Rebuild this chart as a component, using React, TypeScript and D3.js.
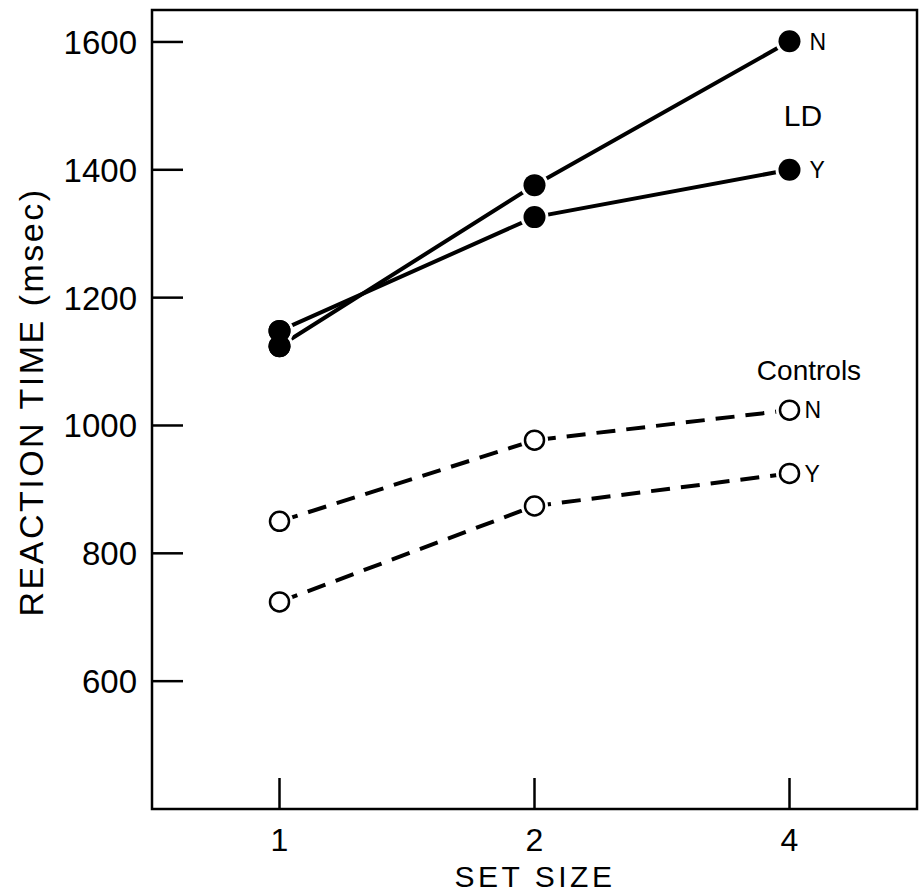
import React from "react";
import * as d3 from "d3";

const setSizes = ["1", "2", "4"];
const yTicks = [600, 800, 1000, 1200, 1400, 1600];

// LD group (filled markers, solid lines)
const ldN = [1124, 1376, 1601];
const ldY = [1148, 1326, 1400];
// Controls (open markers, dashed lines)
const ctrlN = [850, 977, 1024];
const ctrlY = [724, 874, 925];

const W = 923;
const H = 896;
const box = { left: 152, right: 917, top: 10, bottom: 809 };
const font = "'Liberation Sans', Arial, sans-serif";

export default function App() {
  const x = d3.scalePoint<string>().domain(setSizes).range([box.left, box.right]).padding(0.5);
  const y = d3.scaleLinear().domain([400, 1650]).range([box.bottom, box.top]);

  const line = d3
    .line<number>()
    .x((_, i) => x(setSizes[i]) as number)
    .y((d) => y(d));

  const series = [
    { vals: ldN, filled: true, label: "N" },
    { vals: ldY, filled: true, label: "Y" },
    { vals: ctrlN, filled: false, label: "N" },
    { vals: ctrlY, filled: false, label: "Y" },
  ];

  return (
    <svg
      width={W}
      height={H}
      style={{ position: "absolute", left: 0, top: 0, background: "#fff" }}
    >
      <rect x={0} y={0} width={W} height={H} fill="#fff" />
      {/* frame */}
      <rect
        x={box.left}
        y={box.top}
        width={box.right - box.left}
        height={box.bottom - box.top}
        fill="none"
        stroke="#000"
        strokeWidth={2.5}
      />
      {/* y ticks */}
      {yTicks.map((t) => (
        <g key={t}>
          <line x1={box.left} x2={box.left + 31} y1={y(t)} y2={y(t)} stroke="#000" strokeWidth={2.5} />
          <text
            x={137}
            y={y(t)}
            dy="0.36em"
            textAnchor="end"
            fontFamily={font}
            fontSize={33}
          >
            {t}
          </text>
        </g>
      ))}
      {/* x ticks */}
      {setSizes.map((s) => (
        <g key={s}>
          <line
            x1={x(s)}
            x2={x(s)}
            y1={box.bottom}
            y2={box.bottom - 31}
            stroke="#000"
            strokeWidth={2.5}
          />
          <text x={x(s)} y={851} textAnchor="middle" fontFamily={font} fontSize={32}>
            {s}
          </text>
        </g>
      ))}
      <text x={535} y={887} textAnchor="middle" fontFamily={font} fontSize={30} letterSpacing={3.5}>
        SET SIZE
      </text>
      <text
        transform="translate(43,402) rotate(-90)"
        textAnchor="middle"
        fontFamily={font}
        fontSize={34}
        letterSpacing={2.5}
      >
        REACTION TIME (msec)
      </text>

      {/* lines */}
      {series.map((s, i) => (
        <path
          key={"l" + i}
          d={line(s.vals) as string}
          fill="none"
          stroke="#000"
          strokeWidth={4}
          strokeDasharray={s.filled ? undefined : "19 11"}
        />
      ))}
      {/* white halos to leave gap between lines and markers */}
      {series.map((s, i) =>
        s.vals.map((v, j) => (
          <circle
            key={"h" + i + j}
            cx={x(setSizes[j])}
            cy={y(v)}
            r={s.filled ? 14 : 13.5}
            fill="#fff"
          />
        ))
      )}
      {series.map((s, i) =>
        s.vals.map((v, j) => (
          <circle
            key={"m" + i + j}
            cx={x(setSizes[j])}
            cy={y(v)}
            r={s.filled ? 11 : 9.5}
            fill={s.filled ? "#000" : "#fff"}
            stroke="#000"
            strokeWidth={s.filled ? 0 : 2.5}
          />
        ))
      )}
      {/* filled markers at 1 overlap, redraw both so no halo splits them */}
      {[ldN, ldY].map((vals, i) => (
        <circle key={"r" + i} cx={x(setSizes[0])} cy={y(vals[0])} r={11} fill="#000" />
      ))}

      {/* series labels */}
      <text x={x("4")! + 20} y={y(ldN[2])} dy="0.36em" fontFamily={font} fontSize={23}>
        N
      </text>
      <text x={x("4")! + 20} y={y(ldY[2])} dy="0.36em" fontFamily={font} fontSize={23}>
        Y
      </text>
      <text x={803} y={115} dy="0.36em" textAnchor="middle" fontFamily={font} fontSize={30}>
        LD
      </text>
      <text x={809} y={370} dy="0.36em" textAnchor="middle" fontFamily={font} fontSize={28}>
        Controls
      </text>
      <text x={x("4")! + 15} y={y(ctrlN[2])} dy="0.36em" fontFamily={font} fontSize={23}>
        N
      </text>
      <text x={x("4")! + 15} y={y(ctrlY[2])} dy="0.36em" fontFamily={font} fontSize={23}>
        Y
      </text>
    </svg>
  );
}
